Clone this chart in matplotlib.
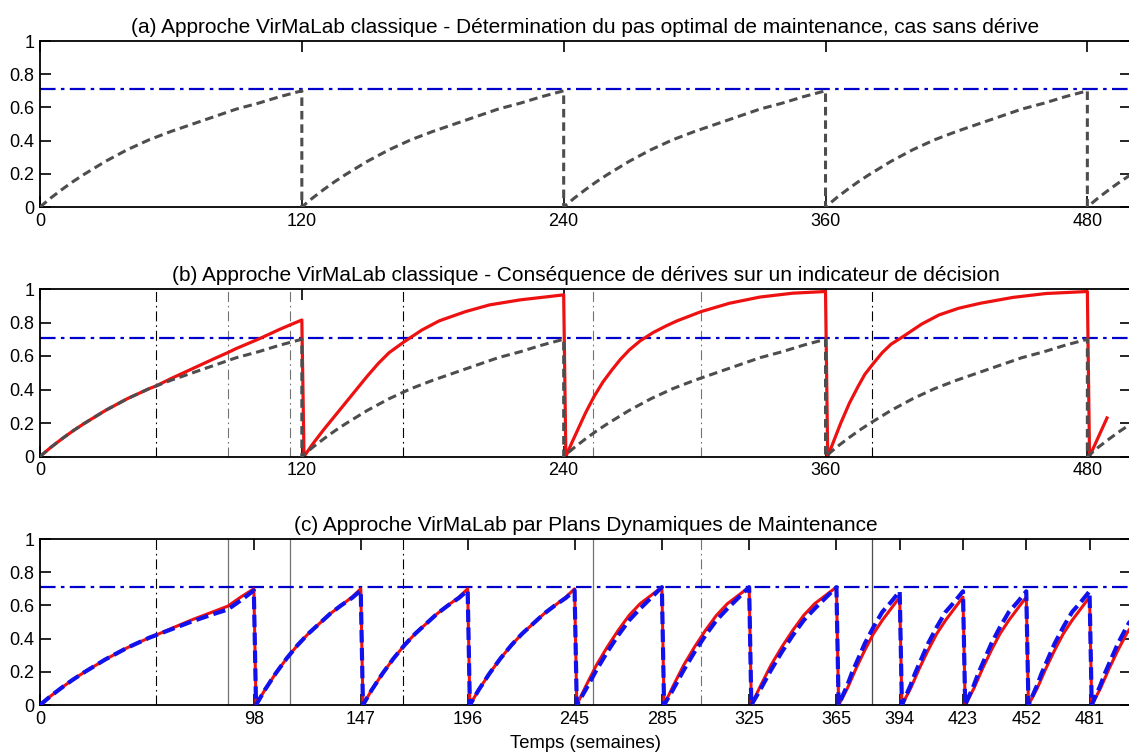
import matplotlib
matplotlib.use("Agg")
import matplotlib.pyplot as plt

plt.rcParams['font.family'] = ['Liberation Sans', 'DejaVu Sans']
plt.rcParams['font.size'] = 13

# --- data ---
titles = [
    "(a) Approche VirMaLab classique - Détermination du pas optimal de maintenance, cas sans dérive",
    "(b) Approche VirMaLab classique - Conséquence de dérives sur un indicateur de décision",
    "(c) Approche VirMaLab par Plans Dynamiques de Maintenance",
]
xlabel = "Temps (semaines)"
threshold = 0.71
x_max = 500
y_ticks = [0, 0.2, 0.4, 0.6, 0.8, 1]
y_ticklabels = ["0", "0.2", "0.4", "0.6", "0.8", "1"]

# nominal indicator (no drift) over one 120-week cycle
nominal_age = [0, 5, 10, 15, 20, 30, 40, 50, 60, 70, 80, 90, 100, 110, 120]
nominal_val = [0, 0.055, 0.105, 0.152, 0.195, 0.275, 0.345, 0.405, 0.455, 0.50, 0.545, 0.59, 0.625, 0.665, 0.70]
fixed_dates = [0, 120, 240, 360, 480]

# (b) indicator under drift, one list per maintenance cycle
drift_weeks = [
    [0, 5, 10, 15, 20, 30, 40, 50, 53, 60, 70, 80, 86, 90, 100, 110, 114.5, 120],
    [121, 125, 130, 135, 140, 145, 150, 155, 160, 167, 175, 183, 195, 206, 220, 240],
    [241, 244, 247, 250, 254, 258, 262, 266, 270, 275, 281, 287, 292, 303, 316, 330, 345, 360],
    [361, 364, 367, 371, 375, 378, 382, 386, 390, 396, 404, 412, 421, 431, 446, 461, 480],
    [481, 489],
]
drift_vals = [
    [0, 0.055, 0.105, 0.152, 0.195, 0.275, 0.345, 0.405, 0.42, 0.465, 0.525, 0.585, 0.62, 0.645, 0.70, 0.76, 0.785, 0.815],
    [0, 0.075, 0.16, 0.24, 0.32, 0.40, 0.48, 0.555, 0.62, 0.686, 0.755, 0.81, 0.865, 0.905, 0.935, 0.965],
    [0, 0.09, 0.175, 0.26, 0.36, 0.445, 0.515, 0.58, 0.635, 0.69, 0.74, 0.78, 0.81, 0.865, 0.915, 0.952, 0.975, 0.985],
    [0, 0.10, 0.20, 0.32, 0.42, 0.49, 0.557, 0.62, 0.67, 0.72, 0.79, 0.845, 0.885, 0.915, 0.95, 0.973, 0.985],
    [0, 0.23],
]

# drift events (weeks) marked by vertical lines
events = [53, 86, 114.5, 166.5, 253.5, 303, 381.5]
event_color_b = ["k", "0.45", "0.45", "k", "0.45", "0.45", "k"]
event_style_c = ["dashdot", "solid", "solid", "dashdot", "solid", "dashdot", "solid"]
event_color_c = ["k", "0.45", "0.45", "k", "0.45", "0.45", "0.3"]

# (c) dynamic maintenance plan
plan_dates = [98, 147, 196, 245, 285, 325, 365, 394, 423, 452, 481]
first_age = [0, 5, 10, 15, 20, 30, 40, 50, 53, 60, 70, 80, 86, 92, 98]
first_real = [0, 0.055, 0.105, 0.152, 0.195, 0.275, 0.345, 0.405, 0.42, 0.46, 0.515, 0.565, 0.595, 0.65, 0.70]
first_model = [0, 0.055, 0.105, 0.152, 0.195, 0.275, 0.345, 0.405, 0.42, 0.455, 0.505, 0.55, 0.575, 0.63, 0.69]
# one cycle after a maintenance, by interval length (weeks since maintenance)
age_49 = [1, 3, 5, 7.5, 10, 15, 20, 25, 30, 35, 40, 45, 49]
real_49 = [0, 0.045, 0.09, 0.14, 0.19, 0.28, 0.36, 0.43, 0.49, 0.55, 0.60, 0.65, 0.70]
model_49 = [0, 0.045, 0.09, 0.14, 0.19, 0.28, 0.36, 0.43, 0.49, 0.55, 0.60, 0.645, 0.69]
age_40 = [1, 3, 5, 7.5, 10, 15, 20, 25, 30, 35, 40]
real_40 = [0, 0.055, 0.11, 0.175, 0.24, 0.35, 0.45, 0.54, 0.61, 0.66, 0.71]
model_40 = [0, 0.045, 0.09, 0.15, 0.21, 0.32, 0.42, 0.51, 0.58, 0.645, 0.71]
age_29 = [1, 3, 5, 7, 9, 13, 17, 21, 25, 29]
real_29 = [0, 0.05, 0.10, 0.16, 0.22, 0.33, 0.43, 0.51, 0.58, 0.65]
model_29 = [0, 0.06, 0.12, 0.19, 0.25, 0.37, 0.47, 0.56, 0.62, 0.685]

profiles = {49: (age_49, real_49, model_49),
            40: (age_40, real_40, model_40),
            29: (age_29, real_29, model_29)}


def repeat_cycles(starts, ages, vals, last_gap):
    xs, ys = [], []
    for i, s in enumerate(starts):
        end = starts[i + 1] if i + 1 < len(starts) else s + last_gap
        for a, v in zip(ages, vals):
            if s + a <= end:
                xs.append(s + a)
                ys.append(v)
    return xs, ys


nom_x, nom_y = repeat_cycles(fixed_dates, nominal_age, nominal_val, 120)

drift_x = [w for seg in drift_weeks for w in seg]
drift_y = [v for seg in drift_vals for v in seg]

real_x, real_y = list(first_age), list(first_real)
model_x, model_y = list(first_age), list(first_model)
for i, s in enumerate(plan_dates):
    gap = plan_dates[i + 1] - s if i + 1 < len(plan_dates) else 29
    ages, rv, mv = profiles[gap]
    for a, r, m in zip(ages, rv, mv):
        real_x.append(s + a); real_y.append(r)
        model_x.append(s + a); model_y.append(m)

# --- plot ---
fig = plt.figure(figsize=(11.29, 7.53), dpi=100)
left, width = 40 / 1129, 1091 / 1129
boxes = [(207, 166), (456.5, 167.5), (705, 166)]
axes = [fig.add_axes([left, 1 - b / 753, width, h / 753]) for b, h in boxes]

thr_dash = (7, 2.4, 1.6, 2.4)
ev_dash = (9, 3.5, 1.5, 3.5)
gray_dash = (2.8, 1.6)

for ax, title in zip(axes, titles):
    ax.axhline(threshold, color="#0000cc", lw=1.6, dashes=thr_dash, zorder=1.5)
    ax.set_xlim(0, x_max)
    ax.set_ylim(0, 1)
    ax.set_yticks(y_ticks)
    ax.set_yticklabels(y_ticklabels)
    ax.set_title(title, fontsize=15, pad=6)
    ax.tick_params(direction="in", length=8, width=1.2, top=True, right=True, pad=4)
    for sp in ax.spines.values():
        sp.set_linewidth(1.3)

ax_a, ax_b, ax_c = axes

ax_a.plot(nom_x, nom_y, color="#4d4d4d", lw=2.2, dashes=gray_dash, zorder=3)
ax_a.set_xticks(fixed_dates)

for t, c in zip(events, event_color_b):
    ax_b.axvline(t, color=c, lw=0.8, dashes=ev_dash, zorder=1)
ax_b.plot(drift_x, drift_y, color="#ee1111", lw=2.3, zorder=2)
ax_b.plot(nom_x, nom_y, color="#4d4d4d", lw=2.2, dashes=gray_dash, zorder=3)
ax_b.set_xticks(fixed_dates)

for t, st, c in zip(events, event_style_c, event_color_c):
    if st == "solid":
        ax_c.axvline(t, color=c, lw=0.9, zorder=1)
    else:
        ax_c.axvline(t, color=c, lw=0.8, dashes=ev_dash, zorder=1)
ax_c.plot(real_x, real_y, color="#ee1111", lw=2.2, zorder=2)
ax_c.plot(model_x, model_y, color="#1111ee", lw=3.0, dashes=(3, 1.3), zorder=3)
ax_c.set_xticks([0] + plan_dates)
ax_c.set_xlabel(xlabel, fontsize=13.3, labelpad=5)

fig.savefig("out.png", dpi=100)
